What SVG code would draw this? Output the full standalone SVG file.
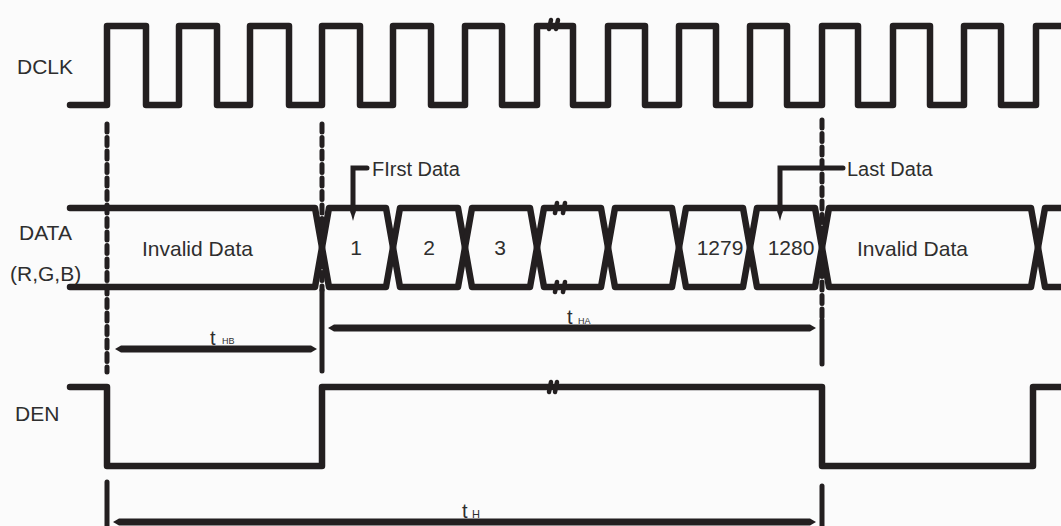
<svg xmlns="http://www.w3.org/2000/svg" width="1061" height="526" viewBox="0 0 1061 526">
<style>
.sig{fill:none;stroke:#231f20;stroke-width:6.5;stroke-linejoin:round;stroke-linecap:round}
.lbl{font-family:"Liberation Sans",Arial,sans-serif;font-size:21px;fill:#2e2e2e}
.brk{fill:none;stroke:#231f20;stroke-width:4.5;stroke-linecap:round}
.vm{fill:none;stroke:#231f20;stroke-width:5;stroke-linecap:round}
.vd{fill:none;stroke:#231f20;stroke-width:5;stroke-linecap:round;stroke-dasharray:8 5.5}
.ar{fill:#231f20}
.t{font-family:"Liberation Sans",Arial,sans-serif;font-size:20px;fill:#2e2e2e}
.sub{font-family:"Liberation Sans",Arial,sans-serif;font-size:9px;fill:#2e2e2e}
</style>
<rect width="1061" height="526" fill="#fbfbfb"/>

<g id="dclk">
<text class="lbl" x="17" y="74">DCLK</text>
<path class="sig" d="M70,105 H107 V26 H146 V105 H179 V26 H217 V105 H250 V26 H289 V105 H322 V26 H360 V105 H393 V26 H431 V105 H465 V26 H502 V105 H537 V26 H573 V105 H608 V26 H645 V105 H679 V26 H716 V105 H750 V26 H787 V105 H822 V26 H858 V105 H893 V26 H930 V105 H964 V26 H1001 V105 H1036 V26 H1064"/>
<path class="brk" d="M551,20 l-2,9 M558,20 l-2,9"/>
</g>

<g id="data">
<text class="lbl" x="19" y="240">DATA</text>
<text class="lbl" x="10" y="281">(R,G,B)</text>
<path class="sig" d="M70,208 H315 L322,247.5 L315,287 H70"/>
<path class="sig" d="M322,247.5 L329,208 H386 L393,247.5 L386,287 H329 Z"/>
<path class="sig" d="M393,247.5 L400,208 H458 L465,247.5 L458,287 H400 Z"/>
<path class="sig" d="M465,247.5 L472,208 H530 L537,247.5 L530,287 H472 Z"/>
<path class="sig" d="M537,247.5 L544,208 H601 L608,247.5 L601,287 H544 Z"/>
<path class="sig" d="M608,247.5 L615,208 H672 L679,247.5 L672,287 H615 Z"/>
<path class="sig" d="M679,247.5 L686,208 H743 L750,247.5 L743,287 H686 Z"/>
<path class="sig" d="M750,247.5 L757,208 H815 L822,247.5 L815,287 H757 Z"/>
<path class="sig" d="M822,247.5 L829,208 H1031 L1038,247.5 L1031,287 H829 Z"/>
<path class="sig" d="M1064,208 H1045 L1038,247.5 L1045,287 H1064"/>
<path class="brk" d="M557,203 l-2,10 M565,203 l-2,10 M557,282 l-2,10 M565,282 l-2,10"/>
<text class="lbl" x="142" y="256">Invalid Data</text>
<text class="lbl" x="356" y="255" text-anchor="middle">1</text>
<text class="lbl" x="429" y="255" text-anchor="middle">2</text>
<text class="lbl" x="500" y="255" text-anchor="middle">3</text>
<text class="lbl" x="720" y="255" text-anchor="middle">1279</text>
<text class="lbl" x="791" y="255" text-anchor="middle">1280</text>
<text class="lbl" x="857" y="256">Invalid Data</text>
</g>

<g id="den">
<text class="lbl" x="15" y="421">DEN</text>
<path class="sig" d="M70,387 H107 V466 H322 V387 H822 V466 H1033 V387 H1061"/>
<path class="brk" d="M551,382 l-2,10 M557,382 l-2,10"/>
</g>

<g id="first-data">
<path class="vm" d="M367,168 H353 V212"/>
<polygon class="ar" points="350,210 356,210 353,221"/>
<text class="lbl" x="372" y="176" style="font-size:20px">FIrst Data</text>
</g>

<g id="last-data">
<path class="vm" d="M843,168 H780 V212"/>
<polygon class="ar" points="777,210 783,210 780,221"/>
<text class="lbl" x="847" y="176" style="font-size:20px">Last Data</text>
</g>

<g id="connectors">
<path class="vd" d="M107,124 V372"/>
<path class="vm" d="M107,482 V526"/>
<path class="vd" d="M322,124 V290"/>
<path class="vm" d="M322,290 V371"/>
<path class="vd" d="M822,120 V320"/>
<path class="vm" d="M822,320 V364"/>
<path class="vm" d="M822,486 V526"/>
<path class="ar" d="M115,349 L121,345.5 H311 L317,349 L311,352.5 H121 Z"/>
<path class="ar" d="M328,328 L334,324.5 H810 L816,328 L810,331.5 H334 Z"/>
<path class="ar" d="M113,522 L119,518.5 H810 L816,522 L810,525.5 H119 Z"/>
</g>

<g id="labels">
<text class="t" x="210" y="345">t</text><text class="sub" x="222" y="344">HB</text>
<text class="t" x="567" y="324">t</text><text class="sub" x="578" y="324">HA</text>
<text class="t" x="462" y="518">t</text><text class="sub" x="472" y="518" style="font-size:11px">H</text>
</g>
</svg>
